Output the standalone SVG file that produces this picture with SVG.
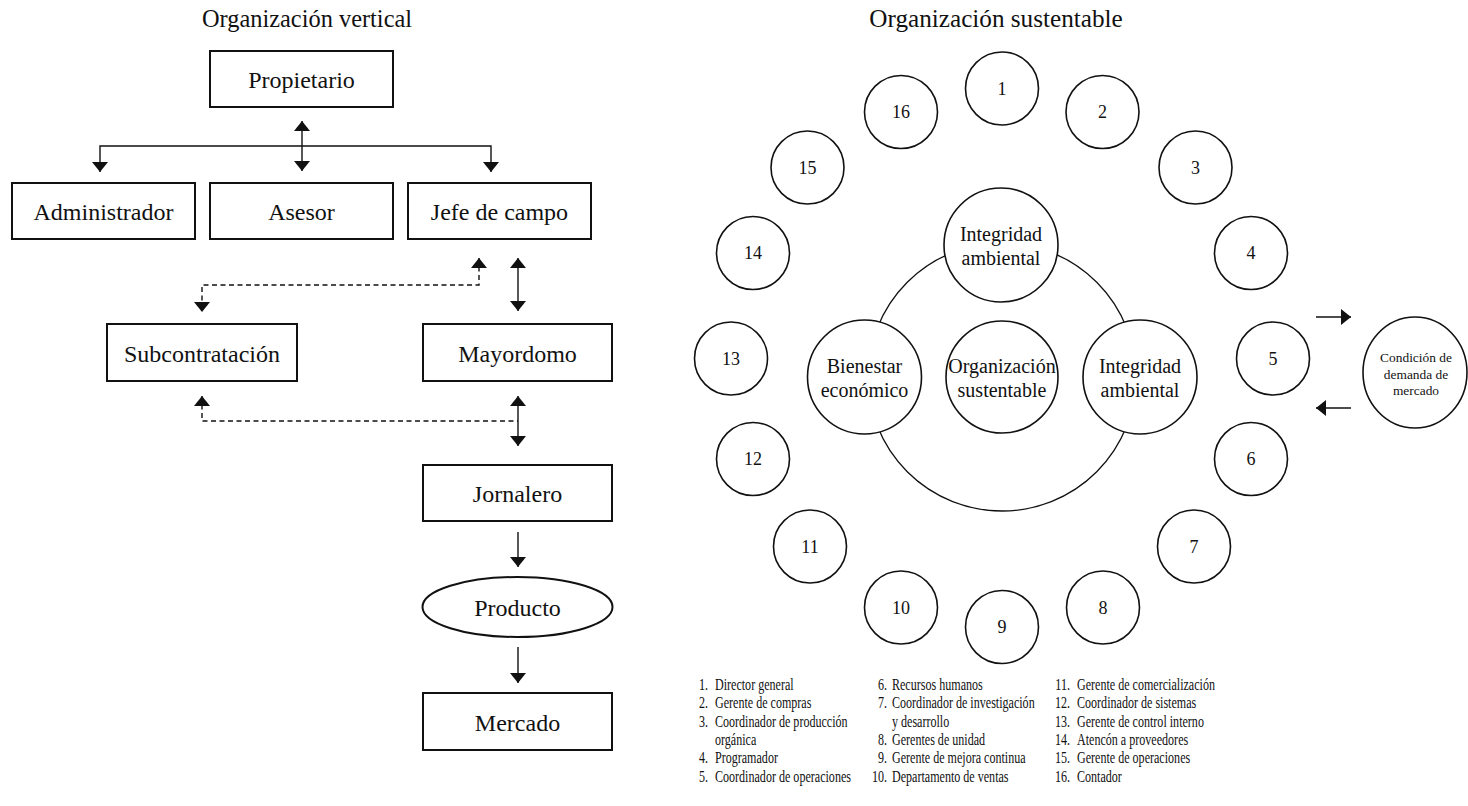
<svg xmlns="http://www.w3.org/2000/svg" width="1468" height="806" viewBox="0 0 1468 806">
<style>
text{font-family:"Liberation Serif","Times New Roman",serif;fill:#111}
.t{font-size:24.4px;text-anchor:middle}
.t2{font-size:25.2px;text-anchor:middle}
.b{font-size:24px;text-anchor:middle}
.c{font-size:20px;text-anchor:middle}
.n{font-size:18px;text-anchor:middle}
.m{font-size:13.4px;text-anchor:middle}
.lg{font-size:17px}
.le{font-size:17px;text-anchor:end}
.box{fill:#fff;stroke:#111;stroke-width:2}
.cir{fill:#fff;stroke:#111;stroke-width:1.6}
.big{fill:none;stroke:#111;stroke-width:1.3}
.ln{fill:none;stroke:#111;stroke-width:1.4}
.ds{fill:none;stroke:#111;stroke-width:1.4;stroke-dasharray:5 3.5}
</style>
<defs>
<marker id="ah" viewBox="0 0 10 16" refX="10" refY="8" markerWidth="10" markerHeight="16" markerUnits="userSpaceOnUse" orient="auto-start-reverse">
<path d="M0,0 L10,8 L0,16 z" fill="#111"/>
</marker>
</defs>
<rect width="1468" height="806" fill="#fff"/>

<text class="t" x="307" y="27">Organización vertical</text>
<text class="t2" x="996" y="27">Organización sustentable</text>

<g id="connectors">
<path class="ln" d="M302,121 V171" marker-start="url(#ah)" marker-end="url(#ah)"/>
<path class="ln" d="M100,172 V146 H491 V172" marker-start="url(#ah)" marker-end="url(#ah)"/>
<path class="ds" d="M479,258 V285 H202 V312" marker-start="url(#ah)" marker-end="url(#ah)"/>
<path class="ln" d="M518,258 V311" marker-start="url(#ah)" marker-end="url(#ah)"/>
<path class="ds" d="M202,396 V421 H518" marker-start="url(#ah)"/>
<path class="ln" d="M518,396 V446" marker-start="url(#ah)" marker-end="url(#ah)"/>
<path class="ln" d="M518,532 V567" marker-end="url(#ah)"/>
<path class="ln" d="M518,647 V683" marker-end="url(#ah)"/>
<path class="ln" d="M1316,317 H1351" marker-end="url(#ah)"/>
<path class="ln" d="M1351,408 H1316" marker-end="url(#ah)"/>
</g>

<g id="propietario"><rect class="box" x="210" y="51" width="183" height="56"/><text class="b" x="301.5" y="88">Propietario</text></g>
<g id="administrador"><rect class="box" x="12" y="183" width="183" height="56"/><text class="b" x="103.5" y="220">Administrador</text></g>
<g id="asesor"><rect class="box" x="210" y="183" width="183" height="56"/><text class="b" x="301.5" y="220">Asesor</text></g>
<g id="jefe"><rect class="box" x="408" y="183" width="183" height="56"/><text class="b" x="499.5" y="220">Jefe de campo</text></g>
<g id="subcontratacion"><rect class="box" x="107" y="324" width="190" height="57"/><text class="b" x="202" y="361.5">Subcontratación</text></g>
<g id="mayordomo"><rect class="box" x="423" y="324" width="189" height="57"/><text class="b" x="517.5" y="361.5">Mayordomo</text></g>
<g id="jornalero"><rect class="box" x="423" y="465" width="189" height="56"/><text class="b" x="517.5" y="502">Jornalero</text></g>
<g id="producto"><ellipse class="box" cx="517.5" cy="607" rx="95" ry="30"/><text class="b" x="517.5" y="616">Producto</text></g>
<g id="mercado"><rect class="box" x="423" y="693" width="189" height="57"/><text class="b" x="517.5" y="730.5">Mercado</text></g>

<g id="sustentable-ring"><circle class="big" cx="1002" cy="377" r="134"/></g>
<g id="integridad-top"><circle class="cir" cx="1001" cy="245" r="57"/><text class="c" x="1001" y="241">Integridad</text><text class="c" x="1001" y="265">ambiental</text></g>
<g id="bienestar"><circle class="cir" cx="864.5" cy="377" r="57"/><text class="c" x="864.5" y="373">Bienestar</text><text class="c" x="864.5" y="397">económico</text></g>
<g id="organizacion"><circle class="cir" cx="1002" cy="377" r="56"/><text class="c" x="1002" y="373">Organización</text><text class="c" x="1002" y="397">sustentable</text></g>
<g id="integridad-right"><circle class="cir" cx="1140" cy="377" r="57"/><text class="c" x="1140" y="373">Integridad</text><text class="c" x="1140" y="397">ambiental</text></g>

<g id="n1"><circle class="cir" cx="1002" cy="88.5" r="36.5"/><text class="n" x="1002" y="94.5">1</text></g>
<g id="n2"><circle class="cir" cx="1102.5" cy="112" r="36.5"/><text class="n" x="1102.5" y="118">2</text></g>
<g id="n3"><circle class="cir" cx="1195.5" cy="167.5" r="36.5"/><text class="n" x="1195.5" y="173.5">3</text></g>
<g id="n4"><circle class="cir" cx="1251" cy="253" r="36.5"/><text class="n" x="1251" y="259">4</text></g>
<g id="n5"><circle class="cir" cx="1273" cy="358.5" r="36.5"/><text class="n" x="1273" y="364.5">5</text></g>
<g id="n6"><circle class="cir" cx="1251" cy="459" r="36.5"/><text class="n" x="1251" y="465">6</text></g>
<g id="n7"><circle class="cir" cx="1194" cy="546.5" r="36.5"/><text class="n" x="1194" y="552.5">7</text></g>
<g id="n8"><circle class="cir" cx="1103" cy="607.5" r="36.5"/><text class="n" x="1103" y="613.5">8</text></g>
<g id="n9"><circle class="cir" cx="1002" cy="627" r="36.5"/><text class="n" x="1002" y="633">9</text></g>
<g id="n10"><circle class="cir" cx="901" cy="607.5" r="36.5"/><text class="n" x="901" y="613.5">10</text></g>
<g id="n11"><circle class="cir" cx="810" cy="546.5" r="36.5"/><text class="n" x="810" y="552.5">11</text></g>
<g id="n12"><circle class="cir" cx="753" cy="459" r="36.5"/><text class="n" x="753" y="465">12</text></g>
<g id="n13"><circle class="cir" cx="731" cy="358.5" r="36.5"/><text class="n" x="731" y="364.5">13</text></g>
<g id="n14"><circle class="cir" cx="753" cy="253" r="36.5"/><text class="n" x="753" y="259">14</text></g>
<g id="n15"><circle class="cir" cx="807.5" cy="167.5" r="36.5"/><text class="n" x="807.5" y="173.5">15</text></g>
<g id="n16"><circle class="cir" cx="901" cy="112" r="36.5"/><text class="n" x="901" y="118">16</text></g>

<g id="condicion"><ellipse class="cir" cx="1415" cy="372.5" rx="52" ry="55.5"/><text class="m" x="1416" y="362">Condición de</text><text class="m" x="1416" y="378.5">demanda de</text><text class="m" x="1416" y="395">mercado</text></g>

<g id="legend" transform="matrix(0.71 0 0 1 0 0)">
<text class="le" x="997.2" y="690">1.</text><text class="lg" x="1007" y="690">Director general</text>
<text class="le" x="997.2" y="708.3">2.</text><text class="lg" x="1007" y="708.3">Gerente de compras</text>
<text class="le" x="997.2" y="726.7">3.</text><text class="lg" x="1007" y="726.7">Coordinador de producción</text>
<text class="lg" x="1007" y="745">orgánica</text>
<text class="le" x="997.2" y="763.3">4.</text><text class="lg" x="1007" y="763.3">Programador</text>
<text class="le" x="997.2" y="781.7">5.</text><text class="lg" x="1007" y="781.7">Coordinador de operaciones</text>
<text class="le" x="1249.3" y="690">6.</text><text class="lg" x="1256.3" y="690">Recursos humanos</text>
<text class="le" x="1249.3" y="708.3">7.</text><text class="lg" x="1256.3" y="708.3">Coordinador de investigación</text>
<text class="lg" x="1256.3" y="726.7">y desarrollo</text>
<text class="le" x="1249.3" y="745">8.</text><text class="lg" x="1256.3" y="745">Gerentes de unidad</text>
<text class="le" x="1249.3" y="763.3">9.</text><text class="lg" x="1256.3" y="763.3">Gerente de mejora continua</text>
<text class="le" x="1249.3" y="781.7">10.</text><text class="lg" x="1256.3" y="781.7">Departamento de ventas</text>
<text class="le" x="1507" y="690">11.</text><text class="lg" x="1516.9" y="690">Gerente de comercialización</text>
<text class="le" x="1507" y="708.3">12.</text><text class="lg" x="1516.9" y="708.3">Coordinador de sistemas</text>
<text class="le" x="1507" y="726.7">13.</text><text class="lg" x="1516.9" y="726.7">Gerente de control interno</text>
<text class="le" x="1507" y="745">14.</text><text class="lg" x="1516.9" y="745">Atencón a proveedores</text>
<text class="le" x="1507" y="763.3">15.</text><text class="lg" x="1516.9" y="763.3">Gerente de operaciones</text>
<text class="le" x="1507" y="781.7">16.</text><text class="lg" x="1516.9" y="781.7">Contador</text>
</g>
</svg>
